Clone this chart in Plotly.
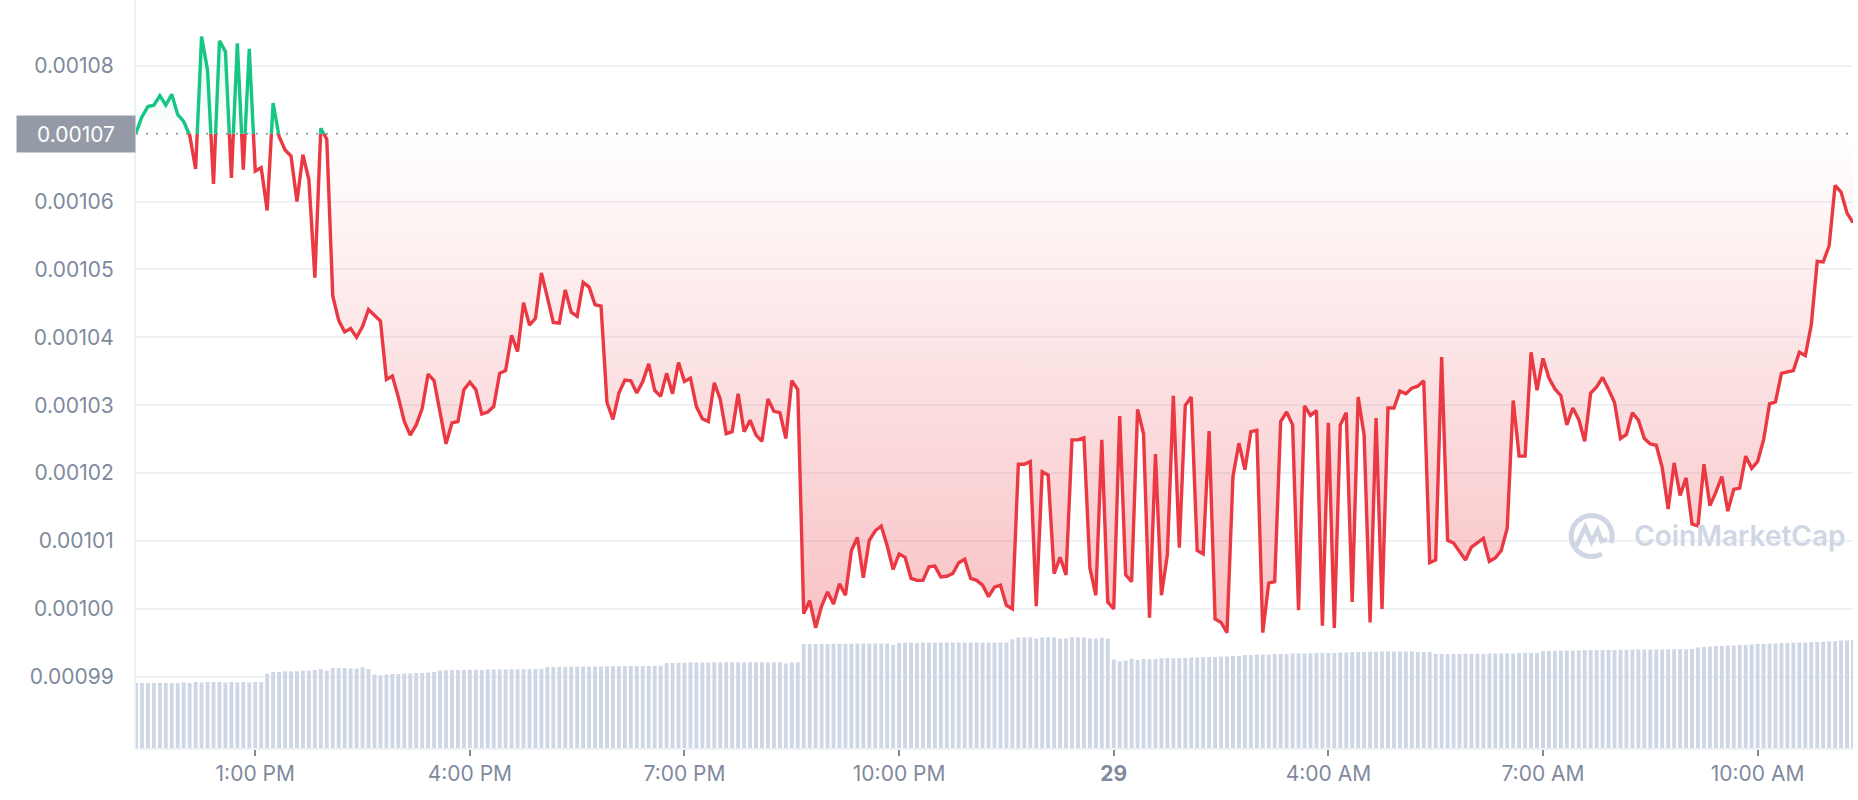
import math
import pandas as pd
import plotly.graph_objects as go

# ---------------- data ----------------
# price in units of 1e-5 USD, one point every 5 minutes
price_e5 = [
    107.01, 107.25, 107.40, 107.42, 107.56, 107.42, 107.58, 107.28, 107.18, 106.98,
    106.48, 108.43, 107.94, 106.26, 108.37, 108.21, 106.35, 108.33, 106.47, 108.25,
    106.45, 106.50, 105.87, 107.45, 106.96, 106.76, 106.67, 106.00, 106.69, 106.32,
    104.88, 107.08, 106.92, 104.61, 104.25, 104.08, 104.13, 104.00, 104.16, 104.41,
    104.32, 104.24, 103.38, 103.43, 103.12, 102.76, 102.56, 102.71, 102.95, 103.46,
    103.36, 102.89, 102.43, 102.74, 102.76, 103.23, 103.34, 103.23, 102.87, 102.90,
    102.98, 103.47, 103.51, 104.03, 103.79, 104.51, 104.18, 104.28, 104.95, 104.59,
    104.22, 104.21, 104.70, 104.37, 104.31, 104.81, 104.74, 104.48, 104.46, 103.04,
    102.79, 103.18, 103.37, 103.36, 103.18, 103.35, 103.61, 103.22, 103.13, 103.47,
    103.17, 103.63, 103.35, 103.40, 102.98, 102.80, 102.76, 103.33, 103.09, 102.58,
    102.61, 103.17, 102.61, 102.78, 102.56, 102.47, 103.09, 102.91, 102.89, 102.51,
    103.36, 103.23, 99.93, 100.12, 99.72, 100.04, 100.25, 100.07, 100.37, 100.20,
    100.86, 101.05, 100.46, 101.01, 101.15, 101.22, 100.93, 100.58, 100.81, 100.76,
    100.45, 100.42, 100.42, 100.62, 100.63, 100.47, 100.48, 100.52, 100.68, 100.73,
    100.45, 100.42, 100.35, 100.18, 100.32, 100.35, 100.05, 100.00, 102.13, 102.13,
    102.17, 100.04, 102.02, 101.97, 100.52, 100.76, 100.50, 102.49, 102.49, 102.52,
    100.60, 100.20, 102.49, 100.10, 100.00, 102.84, 100.50, 100.40, 102.94, 102.58,
    99.87, 102.28, 100.20, 100.80, 103.14, 100.90, 103.00, 103.12, 100.86, 100.81,
    102.62, 99.85, 99.80, 99.65, 101.95, 102.44, 102.05, 102.61, 102.63, 99.65,
    100.38, 100.40, 102.76, 102.90, 102.71, 99.98, 102.99, 102.85, 102.92, 99.75,
    102.74, 99.72, 102.71, 102.89, 100.10, 103.12, 102.56, 99.80, 102.81, 100.00,
    102.96, 102.96, 103.21, 103.17, 103.25, 103.28, 103.36, 100.68, 100.72, 103.71,
    101.01, 100.97, 100.85, 100.72, 100.91, 100.97, 101.04, 100.70, 100.75, 100.86,
    101.19, 103.07, 102.25, 102.25, 103.78, 103.22, 103.69, 103.40, 103.24, 103.14,
    102.71, 102.96, 102.79, 102.47, 103.18, 103.27, 103.41, 103.23, 103.04, 102.51,
    102.57, 102.89, 102.78, 102.51, 102.43, 102.41, 102.08, 101.47, 102.15, 101.67,
    101.93, 101.25, 101.22, 102.13, 101.52, 101.72, 101.95, 101.44, 101.76, 101.78,
    102.25, 102.07, 102.17, 102.49, 103.02, 103.05, 103.47, 103.49, 103.51, 103.78,
    103.73, 104.18, 105.12, 105.11, 105.35, 106.24, 106.14, 105.83, 105.69,
]

# volume bars (relative units)
volume = [
    6.5, 6.5, 6.5, 6.5, 6.5, 6.5, 6.5, 6.5, 6.55, 6.5, 6.6, 6.55, 6.6, 6.6, 6.6, 6.55, 6.6, 6.55, 6.6, 6.55, 6.6, 6.6,
    7.44, 7.6, 7.6, 7.67, 7.67, 7.67, 7.74, 7.74, 7.8, 7.9, 7.74, 8.0, 8.0, 8.0, 7.94, 7.94, 8.07, 7.9,
    7.34, 7.27, 7.34, 7.4, 7.4, 7.45, 7.45, 7.5, 7.5, 7.55, 7.6,
    7.75, 7.78, 7.8, 7.8, 7.8, 7.82, 7.82, 7.8, 7.85, 7.85, 7.85, 7.85, 7.88, 7.88, 7.88, 7.88, 7.9, 7.9,
    8.1, 8.1, 8.12, 8.12, 8.12, 8.15, 8.15, 8.15, 8.15, 8.15, 8.18, 8.18, 8.18, 8.18, 8.2, 8.2, 8.2, 8.2, 8.22, 8.22,
    8.5, 8.5, 8.52, 8.52, 8.55, 8.55, 8.55, 8.55, 8.57, 8.57, 8.57, 8.57, 8.57, 8.57, 8.57, 8.57, 8.57, 8.57, 8.57, 8.57, 8.45, 8.57, 8.57,
    10.4, 10.4, 10.4, 10.4, 10.4, 10.43, 10.43, 10.43, 10.43, 10.45, 10.45, 10.45, 10.45, 10.45, 10.45, 10.3,
    10.5, 10.55, 10.55, 10.5, 10.55, 10.55, 10.55, 10.55, 10.55, 10.55, 10.55, 10.55, 10.55, 10.55, 10.55, 10.55, 10.55, 10.55, 10.55,
    10.87, 11.05, 11.07, 11.07, 10.95, 11.05, 11.07, 11.07, 10.95, 10.95, 11.07, 11.07, 11.07, 10.95, 10.95, 11.02, 10.95,
    8.84, 8.67, 8.74, 8.94, 8.8, 8.9, 8.87, 8.9, 8.97, 9.0, 8.97, 9.0, 9.0, 9.05, 9.05, 9.1, 9.1, 9.1, 9.15, 9.15, 9.2, 9.2,
    9.3, 9.3, 9.35, 9.35, 9.35, 9.4, 9.4, 9.4, 9.45, 9.45, 9.45, 9.45, 9.5, 9.5, 9.5, 9.5, 9.55, 9.55,
    9.6, 9.6, 9.62, 9.62, 9.62, 9.65, 9.65, 9.65, 9.65, 9.65, 9.65, 9.6, 9.6, 9.6,
    9.4, 9.4, 9.4, 9.4, 9.4, 9.42, 9.42, 9.42, 9.42, 9.45, 9.45, 9.45, 9.45, 9.45, 9.5, 9.5, 9.5, 9.5,
    9.7, 9.7, 9.72, 9.72, 9.75, 9.75, 9.75, 9.78, 9.78, 9.8, 9.8, 9.8, 9.8, 9.82, 9.82, 9.82, 9.85, 9.85, 9.85, 9.85, 9.85, 9.88, 9.88, 9.88, 9.88, 9.9,
    10.05, 10.1, 10.15, 10.2, 10.2, 10.25, 10.25, 10.3, 10.3, 10.35,
    10.4, 10.42, 10.45, 10.45, 10.5, 10.5, 10.52, 10.55, 10.55, 10.6, 10.6, 10.62, 10.65, 10.7, 10.75, 10.75, 10.8,
]

start_time = "2023-05-28 11:20"
open_price = 0.00107

tick_times = ["2023-05-28 13:00", "2023-05-28 16:00", "2023-05-28 19:00", "2023-05-28 22:00",
              "2023-05-29 01:00", "2023-05-29 04:00", "2023-05-29 07:00", "2023-05-29 10:00"]
tick_labels = ["1:00 PM", "4:00 PM", "7:00 PM", "10:00 PM", "<b>29</b>", "4:00 AM", "7:00 AM", "10:00 AM"]
price_ticks = [0.00099, 0.00100, 0.00101, 0.00102, 0.00103, 0.00104, 0.00105, 0.00106, 0.00108]

assert len(price_e5) == len(volume) == 289

# ---------------- build ----------------
times = list(pd.date_range(start_time, periods=len(price_e5), freq="5min"))
price = [v * 1e-5 for v in price_e5]

# split line at the crossings with the opening price
T, P = [], []
for k in range(len(price)):
    if k > 0:
        p1, p2 = price[k - 1], price[k]
        if (p1 - open_price) * (p2 - open_price) < 0:
            f = (open_price - p1) / (p2 - p1)
            T.append(times[k - 1] + (times[k] - times[k - 1]) * f)
            P.append(open_price)
    T.append(times[k])
    P.append(price[k])

RED = "#ea3943"
GREEN = "#16c784"
GREY = "#808a9d"
GRID = "#eff2f5"

fig = go.Figure()

fig.add_trace(go.Bar(x=times, y=volume, marker=dict(color="#cfd6e4", line=dict(width=0)),
                     yaxis="y", hoverinfo="skip", showlegend=False))

base_line = [open_price] * len(T)
fig.add_trace(go.Scatter(x=T, y=base_line, yaxis="y2", mode="lines", line=dict(width=0),
                         hoverinfo="skip", showlegend=False))
fig.add_trace(go.Scatter(x=T, y=[min(p, open_price) for p in P], yaxis="y2", mode="lines",
                         line=dict(width=0), fill="tonexty",
                         fillgradient=dict(type="vertical", start=min(price), stop=open_price,
                                           colorscale=[[0, "rgba(234,57,67,0.31)"], [1, "rgba(234,57,67,0)"]]),
                         hoverinfo="skip", showlegend=False))
fig.add_trace(go.Scatter(x=T, y=base_line, yaxis="y2", mode="lines", line=dict(width=0),
                         hoverinfo="skip", showlegend=False))
fig.add_trace(go.Scatter(x=T, y=[max(p, open_price) for p in P], yaxis="y2", mode="lines",
                         line=dict(width=0), fill="tonexty",
                         fillgradient=dict(type="vertical", start=open_price, stop=max(price),
                                           colorscale=[[0, "rgba(22,199,132,0)"], [1, "rgba(22,199,132,0.14)"]]),
                         hoverinfo="skip", showlegend=False))
fig.add_trace(go.Scatter(x=T, y=[p if p <= open_price else None for p in P], yaxis="y2", mode="lines",
                         line=dict(color=RED, width=3.4), connectgaps=False,
                         hoverinfo="skip", showlegend=False))
fig.add_trace(go.Scatter(x=T, y=[p if p >= open_price else None for p in P], yaxis="y2", mode="lines",
                         line=dict(color=GREEN, width=3.4), connectgaps=False,
                         hoverinfo="skip", showlegend=False))

# dotted opening-price line
fig.add_shape(type="line", xref="paper", x0=0, x1=1, yref="y2", y0=open_price, y1=open_price,
              line=dict(color="#9aa0ab", width=2, dash="2px,8px"), layer="below")

# opening price label
fig.add_annotation(xref="paper", x=0, xanchor="right", yref="y2", y=open_price, yanchor="middle",
                   text="0.00107", showarrow=False, bgcolor="#959ba6", width=112, height=30,
                   borderpad=3, font=dict(family="Inter", size=21, color="white"))

# watermark
fig.add_annotation(xref="paper", yref="paper", x=0.8713, y=0.283, xanchor="left", yanchor="middle",
                   text="CoinMarketCap", showarrow=False,
                   font=dict(family="Inter", size=28, color="#cfd6e4", weight=600))
r = 20.5
ring = []
for a in range(-20, 301, 8):
    ang = math.radians(a)
    ring.append((r * math.cos(ang), r * math.sin(ang)))
ring_path = "M " + " L ".join(f"{x:.2f},{y:.2f}" for x, y in ring)
fig.add_shape(type="path", xref="paper", yref="paper", xsizemode="pixel", ysizemode="pixel",
              xanchor=0.8478, yanchor=0.2834, path=ring_path,
              line=dict(color="#cfd6e4", width=5))
wave = [(-15.5, -10.5), (-6.5, 9.0), (0.0, -5.5), (6.0, 6.0), (10.0, -5.0), (15.5, -3.5)]
wave_path = "M " + " L ".join(f"{x:.2f},{y:.2f}" for x, y in wave)
fig.add_shape(type="path", xref="paper", yref="paper", xsizemode="pixel", ysizemode="pixel",
              xanchor=0.8478, yanchor=0.2834, path=wave_path,
              line=dict(color="#cfd6e4", width=4.5))

fig.update_layout(
    width=1858, height=800,
    margin=dict(l=136, r=5, t=0, b=52),
    paper_bgcolor="white", plot_bgcolor="white",
    hovermode=False, showlegend=False, bargap=0.35,
    font=dict(family="Inter", size=21, color=GREY),
    xaxis=dict(type="date", range=[times[0], times[-1]], tickvals=tick_times, ticktext=tick_labels,
               showgrid=False, zeroline=False, showline=True, linecolor=GRID, linewidth=2,
               ticks="outside", ticklen=6, tickwidth=1.5, tickcolor=GREY,
               tickfont=dict(family="Inter", size=21, color=GREY)),
    yaxis=dict(range=[0, 74.8], visible=False, fixedrange=True),
    yaxis2=dict(overlaying="y", side="left", range=[0.0009795, 0.0010897],
                tickvals=price_ticks, tickformat=".5f", showgrid=True, gridcolor=GRID, gridwidth=1.5,
                zeroline=False, showline=True, linecolor=GRID, linewidth=2, ticks="",
                ticklabelstandoff=16, tickfont=dict(family="Inter", size=21, color=GREY)),
)

fig.write_html("out.html", config={"displayModeBar": False},
               post_script="document.body.style.margin='0';document.body.style.overflow='hidden';")
